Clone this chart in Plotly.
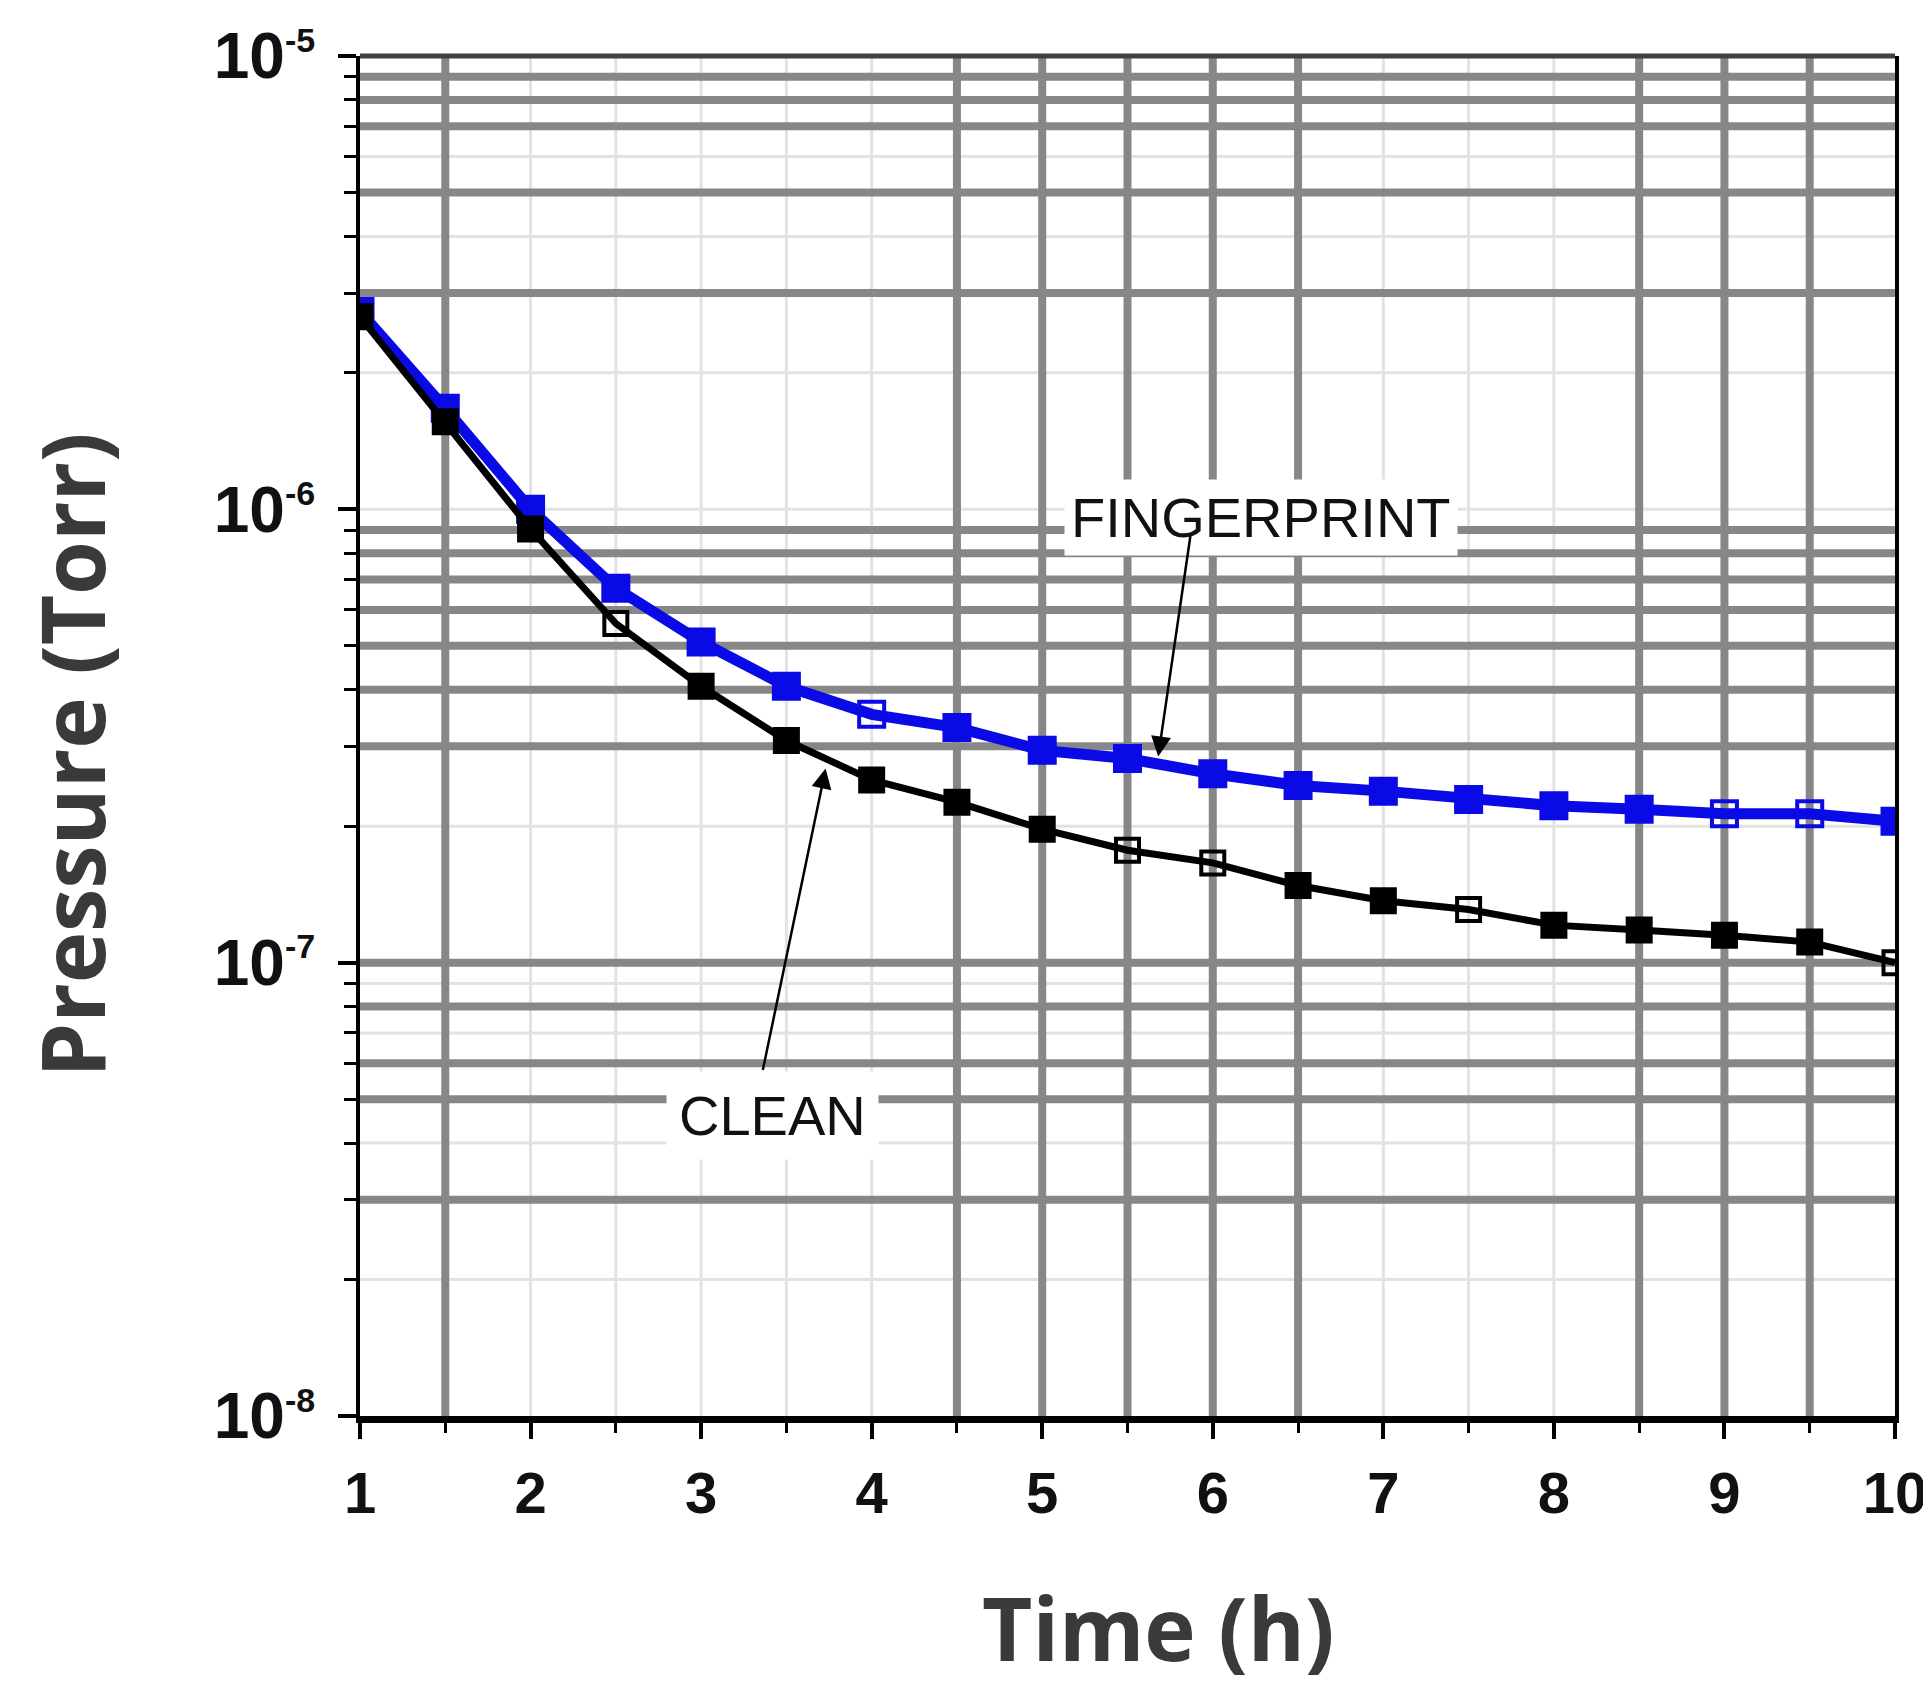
import numpy as np
import plotly.graph_objects as go

# ---- data ----
time_h = [1, 1.5, 2, 2.5, 3, 3.5, 4, 4.5, 5, 5.5, 6, 6.5, 7, 7.5, 8, 8.5, 9, 9.5, 10]
fingerprint = [2.73e-6, 1.67e-6, 1.0e-6, 6.7e-7, 5.1e-7, 4.07e-7, 3.53e-7, 3.3e-7, 2.94e-7,
               2.82e-7, 2.61e-7, 2.46e-7, 2.39e-7, 2.29e-7, 2.22e-7, 2.18e-7, 2.13e-7, 2.13e-7, 2.05e-7]
clean = [2.66e-6, 1.56e-6, 9.05e-7, 5.6e-7, 4.07e-7, 3.09e-7, 2.53e-7, 2.26e-7, 1.97e-7,
         1.77e-7, 1.66e-7, 1.48e-7, 1.37e-7, 1.31e-7, 1.21e-7, 1.18e-7, 1.15e-7, 1.11e-7, 1.0e-7]

x_ticks = [1, 2, 3, 4, 5, 6, 7, 8, 9, 10]
x_tick_labels = ["<b>%d</b>" % v for v in x_ticks]
y_ticks = [1e-8, 1e-7, 1e-6, 1e-5]
y_exponents = ["-8", "-7", "-6", "-5"]
y_tick_labels = ["<b>10</b><sup><span style='font-size:34px'><b>%s</b></span></sup>" % e
                 for e in y_exponents]

# grid line positions (heavy / light as in the picture)
x_grid_heavy = [1.5, 4.5, 5, 5.5, 6, 6.5, 8.5, 9, 9.5]
x_grid_light = [2, 2.5, 3, 3.5, 4, 7, 7.5, 8]
y_grid_heavy = [9e-6, 8e-6, 7e-6, 5e-6, 3e-6, 9e-7, 8e-7, 7e-7, 6e-7, 5e-7, 4e-7, 3e-7,
                1e-7, 8e-8, 6e-8, 5e-8, 3e-8]
y_grid_light = [6e-6, 4e-6, 2e-6, 1e-6, 2e-7, 9e-8, 7e-8, 4e-8, 2e-8]

# marker fill pattern (some squares appear hollow)
fp_symbols = ["square"] * 19
for i in (6, 16, 17):
    fp_symbols[i] = "square-open"
cl_symbols = ["square"] * 19
for i in (3, 9, 10, 13, 18):
    cl_symbols[i] = "square-open"

BLUE = "#0a0ae6"
HEAVY = "#878787"
LIGHT = "#e2e2e2"

fig = go.Figure()

fig.add_trace(go.Scatter(
    x=time_h, y=fingerprint, mode="lines+markers", name="FINGERPRINT",
    line=dict(color=BLUE, width=11),
    marker=dict(symbol=fp_symbols, size=25, color=BLUE, line=dict(color=BLUE, width=4)),
))
fig.add_trace(go.Scatter(
    x=time_h, y=clean, mode="lines+markers", name="CLEAN",
    line=dict(color="black", width=7),
    marker=dict(symbol=cl_symbols, size=23, color="black", line=dict(color="black", width=4)),
))

shapes = []
for xv in x_grid_light:
    shapes.append(dict(type="line", xref="x", yref="paper", x0=xv, x1=xv, y0=0, y1=1,
                       line=dict(color=LIGHT, width=3), layer="below"))
for yv in y_grid_light:
    shapes.append(dict(type="line", xref="paper", yref="y", x0=0, x1=1, y0=yv, y1=yv,
                       line=dict(color=LIGHT, width=3), layer="below"))
for xv in x_grid_heavy:
    shapes.append(dict(type="line", xref="x", yref="paper", x0=xv, x1=xv, y0=0, y1=1,
                       line=dict(color=HEAVY, width=8), layer="below"))
for yv in y_grid_heavy:
    shapes.append(dict(type="line", xref="paper", yref="y", x0=0, x1=1, y0=yv, y1=yv,
                       line=dict(color=HEAVY, width=8), layer="below"))
# top border (dark gray)
shapes.append(dict(type="line", xref="paper", yref="paper", x0=0, x1=1, y0=1, y1=1,
                   line=dict(color="#404040", width=5)))

tick_font = dict(family="Liberation Sans Narrow, Liberation Sans, Arial", size=58, color="#111111")
title_font = dict(family="Open Sans", size=87, color="#3a3a3a")
label_font = dict(family="Liberation Sans, Arial", size=56, color="#111111")

annotations = [
    dict(text="<b>Time (h)</b>", xref="paper", yref="paper", x=0.52, y=-0.155,
         showarrow=False, font=title_font, xanchor="center", yanchor="middle"),
    dict(text="<b>Pressure (Torr)</b>", xref="paper", yref="paper", x=-0.188, y=0.486,
         showarrow=False, font=title_font, textangle=-90, xanchor="center", yanchor="middle"),
    # labels with white boxes
    dict(text="FINGERPRINT", xref="x", yref="y", x=6.28, y=np.log10(9.6e-7),
         showarrow=False, font=label_font, bgcolor="white", borderpad=6),
    dict(text="CLEAN", xref="x", yref="y", x=3.42, y=np.log10(4.6e-8),
         showarrow=False, font=label_font, bgcolor="white", borderpad=12),
    # arrows
    dict(text="", xref="x", yref="y", x=5.68, y=np.log10(2.85e-7),
         axref="x", ayref="y", ax=5.87, ay=np.log10(8.8e-7),
         showarrow=True, arrowhead=2, arrowsize=1.6, arrowwidth=2.5, arrowcolor="black"),
    dict(text="", xref="x", yref="y", x=3.73, y=np.log10(2.68e-7),
         axref="x", ayref="y", ax=3.36, ay=np.log10(5.75e-8),
         showarrow=True, arrowhead=2, arrowsize=1.6, arrowwidth=2.5, arrowcolor="black"),
]

fig.update_layout(
    width=1931, height=1691,
    margin=dict(l=352, r=36, t=43, b=283),
    paper_bgcolor="white", plot_bgcolor="white",
    showlegend=False,
    shapes=shapes,
    annotations=annotations,
    xaxis=dict(
        range=[1, 10], tickvals=x_ticks, ticktext=x_tick_labels,
        showgrid=False, zeroline=False,
        showline=True, linecolor="black", linewidth=7,
        ticks="outside", ticklen=16, tickwidth=4, tickcolor="black",
        minor=dict(tickvals=[1.5, 2.5, 3.5, 4.5, 5.5, 6.5, 7.5, 8.5, 9.5],
                   ticks="outside", ticklen=10, tickwidth=3, tickcolor="black", showgrid=False),
        tickfont=tick_font, ticklabelstandoff=4,
    ),
    yaxis=dict(
        type="log", range=[-8, -5], tickvals=y_ticks, ticktext=y_tick_labels,
        showgrid=False, zeroline=False,
        showline=True, linecolor="black", linewidth=4, mirror=True,
        ticks="outside", ticklen=18, tickwidth=4, tickcolor="black",
        minor=dict(tickvals=[k * 10.0 ** e for e in (-8, -7, -6) for k in range(2, 10)],
                   ticks="outside", ticklen=12, tickwidth=3, tickcolor="black", showgrid=False),
        tickfont=dict(family="Liberation Sans, Arial", size=64, color="#111111"),
        ticklabelstandoff=10,
    ),
)

fig.write_html("out.html")
